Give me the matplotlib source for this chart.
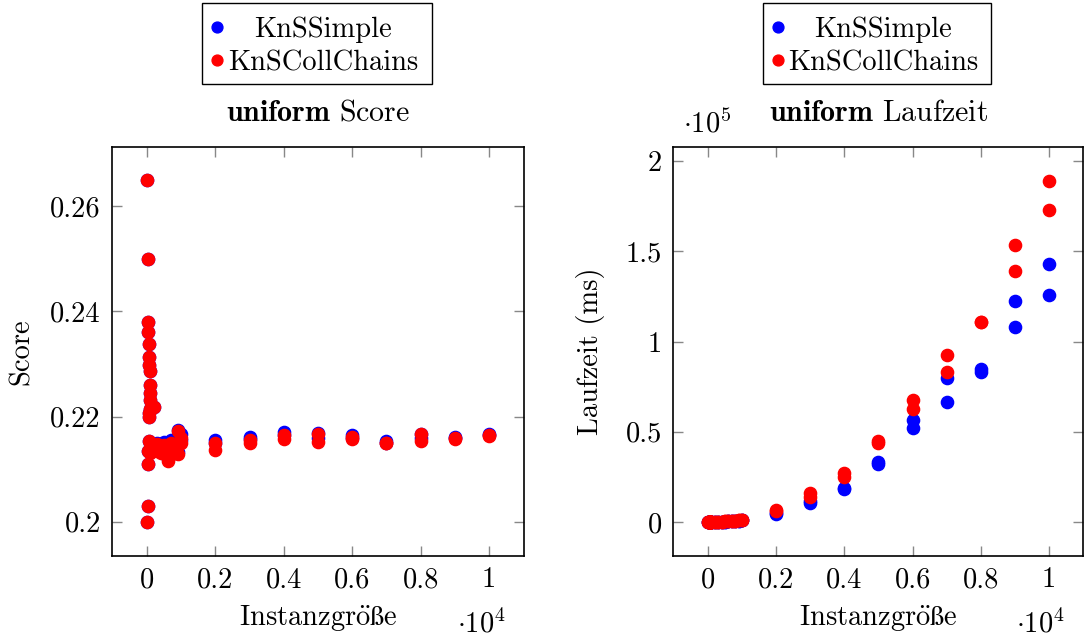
import matplotlib
matplotlib.use("Agg")
import matplotlib.pyplot as plt
from matplotlib.ticker import FixedLocator, FixedFormatter
from matplotlib.lines import Line2D
from matplotlib.patches import Rectangle
from matplotlib.mathtext import MathTextParser

plt.rcParams['font.family'] = ['cmr10', 'DejaVu Serif']
plt.rcParams['mathtext.fontset'] = 'cm'
plt.rcParams['axes.unicode_minus'] = False
plt.rcParams['axes.formatter.use_mathtext'] = True

# ---------------- data ----------------
sizes = [10, 10, 20, 20, 30, 30, 40, 40, 50, 50, 60, 60, 70, 70, 80, 80, 90, 90,
         100, 100, 200, 200, 300, 300, 400, 400, 500, 500, 600, 600, 700, 700,
         800, 800, 900, 900, 1000, 1000,
         2000, 2000, 3000, 3000, 4000, 4000, 5000, 5000, 6000, 6000, 7000, 7000,
         8000, 8000, 9000, 9000, 10000, 10000]

score_simple = [0.265, 0.200, 0.250, 0.203, 0.238, 0.211, 0.236, 0.2134, 0.2337, 0.2153,
                0.2314, 0.2200, 0.2298, 0.2206, 0.2287, 0.2232, 0.2260, 0.2244,
                0.2215, 0.2132, 0.2218, 0.2142, 0.2140, 0.2150, 0.2145, 0.2135,
                0.2152, 0.2142, 0.2120, 0.2145, 0.2140, 0.2155, 0.2150, 0.2135,
                0.2175, 0.2133, 0.2166, 0.2156,
                0.2156, 0.2150, 0.2162, 0.2158, 0.2171, 0.2165, 0.2169, 0.2160,
                0.2164, 0.2160, 0.2153, 0.2150, 0.2167, 0.2160, 0.2162, 0.2160,
                0.2167, 0.2165]

score_coll = [0.265, 0.200, 0.250, 0.203, 0.238, 0.211, 0.236, 0.2134, 0.2337, 0.2153,
              0.2314, 0.2200, 0.2298, 0.2206, 0.2287, 0.2232, 0.2260, 0.2244,
              0.2215, 0.2130, 0.2218, 0.2140, 0.2135, 0.2148, 0.2140, 0.2130,
              0.2145, 0.2138, 0.2115, 0.2140, 0.2135, 0.2150, 0.2145, 0.2130,
              0.2172, 0.2128, 0.2160, 0.2150,
              0.2150, 0.2137, 0.2155, 0.2150, 0.2164, 0.2158, 0.2166, 0.2151,
              0.2161, 0.2157, 0.2150, 0.2149, 0.2166, 0.2153, 0.2159, 0.2158,
              0.2164, 0.2163]

time_simple = [1, 1, 2, 2, 3, 3, 4, 4, 6, 6, 8, 8, 10, 10, 12, 12, 15, 15,
               12, 12, 45, 45, 95, 95, 170, 170, 265, 265, 385, 385, 520, 520,
               680, 680, 860, 860, 1060, 1060,
               4800, 4600, 11500, 10700, 18700, 18500, 33400, 32100,
               56500, 51900, 79800, 66300, 84900, 83100, 122600, 108000,
               143100, 125600]

time_coll = [1, 1, 2, 2, 4, 4, 5, 5, 7, 7, 9, 9, 12, 12, 14, 14, 17, 17,
             15, 15, 55, 55, 120, 120, 210, 210, 330, 330, 480, 480, 650, 650,
             850, 850, 1080, 1080, 1330, 1330,
             6600, 6300, 15900, 14000, 27300, 25100, 44900, 43600,
             67600, 62400, 92700, 83300, 111000, 110600, 153600, 139200,
             188900, 172900]

series_names = ['KnSSimple', 'KnSCollChains']
series_colors = ['#0000ff', '#ff0000']

x_ticks = [0, 2000, 4000, 6000, 8000, 10000]
x_ticklabels = ['0', '0.2', '0.4', '0.6', '0.8', '1']
score_ticks = [0.20, 0.22, 0.24, 0.26]
score_ticklabels = ['0.2', '0.22', '0.24', '0.26']
time_ticks = [0, 50000, 100000, 150000, 200000]
time_ticklabels = ['0', '0.5', '1', '1.5', '2']

# x label "Instanzgröße": Computer-Modern look where possible
xlabel = 'Instanzgröße'
xlabel_family = ['cmr10', 'DejaVu Serif']
try:
    MathTextParser('agg').parse(r'$\mathrm{Instanzgr\ddot{o}\ss e}$', dpi=100)
    xlabel = r'$\mathrm{Instanzgr\ddot{o}\ss e}$'
except Exception:
    pass

# ---------------- figure ----------------
FS = 20.5
fig = plt.figure(figsize=(10.86, 6.41), dpi=100)
ax1 = fig.add_axes([112/1086, 85/641, 412/1086, 409/641])
ax2 = fig.add_axes([673/1086, 85/641, 410/1086, 409/641])

ms = 8.8
for ax, ys, title, ylabel in [
        (ax1, (score_simple, score_coll), r'$\mathbf{uniform}$ Score', 'Score'),
        (ax2, (time_simple, time_coll), r'$\mathbf{uniform}$ Laufzeit', 'Laufzeit (ms)')]:
    for y, name, col in zip(ys, series_names, series_colors):
        ax.plot(sizes, y, linestyle='none', marker='o', markersize=ms,
                color=col, markeredgecolor=col, label=name)
    ax.set_title(title, fontsize=21.5, pad=19)
    ax.set_xlabel(xlabel, fontsize=FS, labelpad=7, family=xlabel_family)
    ax.set_ylabel(ylabel, fontsize=FS)
    ax.xaxis.set_major_locator(FixedLocator(x_ticks))
    ax.xaxis.set_major_formatter(FixedFormatter(x_ticklabels))
    ax.tick_params(direction='in', length=7, width=1, color='#888888',
                   labelsize=FS, top=True, right=True, pad=8)
    for s in ax.spines.values():
        s.set_linewidth(1.2)
    # pgfplots-style legend: markers left, labels centred
    box = Rectangle((0.2184, 1.154), 0.5583, 0.198, transform=ax.transAxes,
                    facecolor='white', edgecolor='black', linewidth=1.0,
                    clip_on=False)
    ax.add_patch(box)
    for name, col, yy in zip(series_names, series_colors, [1.293, 1.213]):
        ax.add_line(Line2D([0.255], [yy], transform=ax.transAxes, marker='o',
                           markersize=7.8, color=col, linestyle='none',
                           clip_on=False))
        ax.text(0.512, yy, name, transform=ax.transAxes, ha='center',
                va='center_baseline', fontsize=FS)
    ax.annotate(r'$\cdot 10^4$', xy=(0.955, 0), xycoords='axes fraction',
                xytext=(0, -55), textcoords='offset points', ha='right',
                va='baseline', fontsize=FS)

ax1.set_xlim(-1025, 11025)
ax1.set_ylim(0.1935, 0.2712)
ax1.yaxis.set_major_locator(FixedLocator(score_ticks))
ax1.yaxis.set_major_formatter(FixedFormatter(score_ticklabels))
ax1.yaxis.set_label_coords(-0.186, 0.5)

ax2.set_xlim(-1026, 10997)
ax2.set_ylim(-18800, 207800)
ax2.yaxis.set_major_locator(FixedLocator(time_ticks))
ax2.yaxis.set_major_formatter(FixedFormatter(time_ticklabels))
ax2.yaxis.set_label_coords(-0.166, 0.5)
ax2.annotate(r'$\cdot 10^5$', xy=(0.0, 1.0), xycoords='axes fraction',
             xytext=(7, 6), textcoords='offset points', ha='left', va='bottom',
             fontsize=FS)

fig.savefig('out.png', dpi=100)
